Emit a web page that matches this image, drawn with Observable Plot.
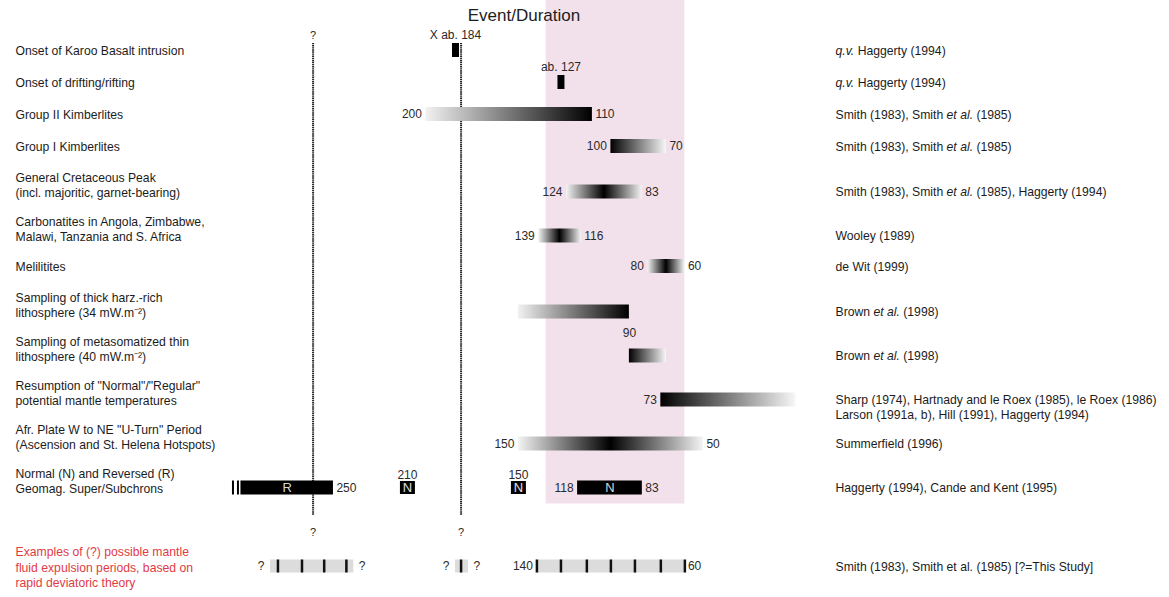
<!DOCTYPE html>
<html>
<head>
<meta charset="utf-8">
<script src="https://cdn.jsdelivr.net/npm/d3@7"></script>
<script src="https://cdn.jsdelivr.net/npm/@observablehq/plot@0.6"></script>
<style>
  html, body { margin: 0; padding: 0; background: #fff; }
  #chart svg { display: block; }
</style>
</head>
<body>
<div id="chart"></div>
<script>
// ---- Events (left column) and their sources (right column) ----
const eventLabels = [
  "Onset of Karoo Basalt intrusion",
  "Onset of drifting/rifting",
  "Group II Kimberlites",
  "Group I Kimberlites",
  "General Cretaceous Peak\n(incl. majoritic, garnet-bearing)",
  "Carbonatites in Angola, Zimbabwe,\nMalawi, Tanzania and S. Africa",
  "Melilitites",
  "Sampling of thick harz.-rich\nlithosphere (34 mW.m⁻²)",
  "Sampling of metasomatized thin\nlithosphere (40 mW.m⁻²)",
  "Resumption of \"Normal\"/\"Regular\"\npotential mantle temperatures",
  "Afr. Plate W to NE \"U-Turn\" Period\n(Ascension and St. Helena Hotspots)",
  "Normal (N) and Reversed (R)\nGeomag. Super/Subchrons"
];
// _..._ marks words set in italics
const eventSources = [
  "_q.v._ Haggerty (1994)",
  "_q.v._ Haggerty (1994)",
  "Smith (1983), Smith _et al._ (1985)",
  "Smith (1983), Smith _et al._ (1985)",
  "Smith (1983), Smith _et al._ (1985), Haggerty (1994)",
  "Wooley (1989)",
  "de Wit (1999)",
  "Brown _et al._ (1998)",
  "Brown _et al._ (1998)",
  "Sharp (1974), Hartnady and le Roex (1985), le Roex (1986)\nLarson (1991a, b), Hill (1991), Haggerty (1994)",
  "Summerfield (1996)",
  "Haggerty (1994), Cande and Kent (1995)"
];
const exampleLabel = "Examples of (?) possible mantle\nfluid expulsion periods, based on\nrapid deviatoric theory";
const exampleSource = "Smith (1983), Smith et al. (1985) [?=This Study]";

// ---- Ages in Ma ----
// Single-age onsets
const onsets = [
  { row: 0, age: 184, note: "X ab. 184" },
  { row: 1, age: 127, note: "ab. 127" }
];
// Durations; profile = how activity builds up / dies away over the interval
const durations = [
  { row: 2,  older: 200, younger: 110, profile: "waxing", marks: "both" },
  { row: 3,  older: 100, younger: 70,  profile: "waning", marks: "both" },
  { row: 4,  older: 124, younger: 83,  profile: "peak",   marks: "both" },
  { row: 5,  older: 139, younger: 116, profile: "peak",   marks: "both" },
  { row: 6,  older: 80,  younger: 60,  profile: "peak",   marks: "both" },
  { row: 7,  older: 150, younger: 90,  profile: "waxing", marks: "below" },
  { row: 8,  older: 90,  younger: 70,  profile: "waning", marks: "none" },
  { row: 9,  older: 73,  younger: 0,   profile: "waning", marks: "older" },
  { row: 10, older: 150, younger: 50,  profile: "peak",   marks: "both" }
];
// Geomagnetic super/subchrons
const chronIntervals = [
  { polarity: "R", older: 300, younger: 250, truncated: true,  marks: "younger" },
  { polarity: "N", older: 118, younger: 83,  truncated: false, marks: "both" }
];
const chronEvents = [
  { polarity: "N", age: 210 },
  { polarity: "N", age: 150 }
];
// Possible fluid expulsion windows and pulses
const expulsionWindows = [
  { older: 284, younger: 239, open: true },
  { older: 184, younger: 177, open: true },
  { older: 140, younger: 60,  open: false }
];
const expulsionPulses = [280, 267, 255, 243, 181, 140, 127, 113, 100, 87, 73, 60];

// Highlighted period and uncertain boundaries
const focusWindow = { older: 135, younger: 60 };
const uncertainBoundaries = [261, 181];

// ---- Layout ----
const W = 1169, H = 597;
const ROW_PX = 32;                 // px per row step
const EXTRA_LINE = 6 / ROW_PX;     // added per extra label line
const SECTION_GAP = 36 / ROW_PX;   // gap before the examples section
const LINE = 15 / ROW_PX;          // label line height in row units
const HALF_BAR = 7 / ROW_PX;

const rows = eventLabels.map((label, i) => ({ label, source: eventSources[i], section: 0 }))
  .concat([{ label: exampleLabel, source: exampleSource, section: 1 }]);
let slot = 0;
rows.forEach((r, i) => {
  r.lines = r.label.split("\n").length;
  if (i > 0) {
    const p = rows[i - 1];
    slot += 1 + EXTRA_LINE * (p.lines - 1 + r.lines - 1) + (r.section !== p.section ? SECTION_GAP : 0);
  }
  r.slot = slot;
  // bars sit on the second label line when there is one
  r.bar = slot + (r.lines > 1 ? (1 - (r.lines - 1) / 2) * LINE : 0);
});
const bar = i => rows[i].bar;
const geoRow = 11, exRow = rows.length - 1;
const yTop = -50 / ROW_PX, yBottom = (H - 50) / ROW_PX;

// number labels around the durations
const ageLabels = [];
durations.forEach(d => {
  if (d.marks === "both" || d.marks === "older") ageLabels.push({ row: d.row, age: d.older, side: "before" });
  if (d.marks === "both" || d.marks === "younger") ageLabels.push({ row: d.row, age: d.younger, side: "after" });
  if (d.marks === "below") ageLabels.push({ row: d.row, age: d.younger, side: "below" });
});
chronIntervals.forEach(d => {
  if (d.marks === "both") ageLabels.push({ row: geoRow, age: d.older, side: "before" });
  if (d.marks === "both" || d.marks === "younger") ageLabels.push({ row: geoRow, age: d.younger, side: "after" });
});
expulsionWindows.filter(d => !d.open).forEach(d => {
  ageLabels.push({ row: exRow, age: d.older, side: "before" });
  ageLabels.push({ row: exRow, age: d.younger, side: "after" });
});

const FONT = "'Liberation Sans', Arial, sans-serif";
const INK = "#1c1c1c", NUM = "#2a2a2a", RED = "#e23a44";

const byProfile = p => Plot.rect(durations.filter(d => d.profile === p), {
  x1: "older", x2: "younger",
  y1: d => bar(d.row) - HALF_BAR, y2: d => bar(d.row) + HALF_BAR,
  fill: `url(#${p})`
});
const ageText = (side, opts) => Plot.text(ageLabels.filter(d => d.side === side), {
  x: "age", y: d => bar(d.row), text: d => String(d.age),
  fontSize: 12, fill: NUM, ...opts
});

const chart = Plot.plot({
  width: W, height: H,
  marginTop: 0, marginRight: 0, marginBottom: 0, marginLeft: 0,
  x: { domain: [430, -202], range: [0, W], axis: null },
  y: { domain: [yTop, yBottom], range: [0, H], axis: null },
  style: { fontFamily: FONT, background: "#fff" },
  marks: [
    // highlighted period
    Plot.rect([focusWindow], {
      x1: "older", x2: "younger",
      y1: () => yTop, y2: () => bar(geoRow) + 0.5,
      fill: "#f2e1ea"
    }),
    // uncertain boundaries
    Plot.ruleX(uncertainBoundaries, {
      x: d => d, y1: () => rows[0].slot - 0.22, y2: () => bar(geoRow) + 0.86,
      stroke: "#222", strokeWidth: 2, strokeDasharray: "1.4 0.7"
    }),
    Plot.text(uncertainBoundaries.slice(0, 1), {
      x: d => d, y: () => rows[0].slot - 0.22, dy: -8, text: () => "?", fontSize: 11, fill: NUM
    }),
    Plot.text(uncertainBoundaries, {
      x: d => d, y: () => bar(geoRow) + 0.86, dy: 17, text: () => "?", fontSize: 11, fill: NUM
    }),

    // onsets
    Plot.ruleX(onsets, {
      x: "age", y1: d => bar(d.row) - HALF_BAR, y2: d => bar(d.row) + HALF_BAR,
      stroke: "#000", strokeWidth: 7
    }),
    Plot.text(onsets, { x: "age", y: d => bar(d.row), dy: -15, text: "note", fontSize: 12, fill: NUM }),

    // durations
    byProfile("waxing"), byProfile("waning"), byProfile("peak"),

    // geomagnetic chrons
    Plot.rect(chronIntervals, {
      x1: "older", x2: "younger",
      y1: () => bar(geoRow) - HALF_BAR, y2: () => bar(geoRow) + HALF_BAR, fill: "#000"
    }),
    Plot.text(chronIntervals, {
      x: d => (d.older + d.younger) / 2, y: () => bar(geoRow), text: "polarity",
      fill: "#d8d8d8", fontSize: 13
    }),
    ...[-3, -8].map(dx => Plot.ruleX(chronIntervals.filter(d => d.truncated), {
      x: "older", dx, y1: () => bar(geoRow) - HALF_BAR, y2: () => bar(geoRow) + HALF_BAR,
      stroke: "#000", strokeWidth: 2
    })),
    Plot.ruleX(chronEvents, {
      x: "age", y1: () => bar(geoRow) - 6.5 / ROW_PX, y2: () => bar(geoRow) + 6.5 / ROW_PX,
      stroke: "#000", strokeWidth: 15
    }),
    Plot.text(chronEvents, { x: "age", y: () => bar(geoRow), text: "polarity", fill: "#e0e0e0", fontSize: 13 }),
    Plot.text(chronEvents, { x: "age", y: () => bar(geoRow), dy: -13, text: d => String(d.age), fontSize: 12, fill: NUM }),

    // expulsion windows and pulses
    Plot.rect(expulsionWindows, {
      x1: "older", x2: "younger",
      y1: () => bar(exRow) - 6.5 / ROW_PX, y2: () => bar(exRow) + 6.5 / ROW_PX, fill: "#dcdcdc"
    }),
    Plot.ruleX(expulsionPulses, {
      x: d => d, y1: () => bar(exRow) - 6.5 / ROW_PX, y2: () => bar(exRow) + 6.5 / ROW_PX,
      stroke: "#111", strokeWidth: 2.5
    }),
    Plot.text(expulsionWindows.filter(d => d.open), {
      x: "older", y: () => bar(exRow), dx: -6, text: () => "?", textAnchor: "end", fontSize: 12, fill: NUM
    }),
    Plot.text(expulsionWindows.filter(d => d.open), {
      x: "younger", y: () => bar(exRow), dx: 5, text: () => "?", textAnchor: "start", fontSize: 12, fill: NUM
    }),

    // age numbers
    ageText("before", { textAnchor: "end", dx: -4 }),
    ageText("after", { textAnchor: "start", dx: 3 }),
    ageText("below", { textAnchor: "middle", dy: 21 }),

    // left column: events
    Plot.text(rows.filter(r => r.section === 0), {
      frameAnchor: "left", dx: 15, y: "slot", text: "label",
      textAnchor: "start", lineAnchor: "middle", lineHeight: 1.25, fontSize: 12.2, fill: INK
    }),
    Plot.text(rows.filter(r => r.section === 1), {
      frameAnchor: "left", dx: 15, y: "slot", text: "label",
      textAnchor: "start", lineAnchor: "middle", lineHeight: 1.3, fontSize: 12.2, fill: RED
    }),
    // right column: sources
    Plot.text(rows, {
      frameAnchor: "left", dx: 835, y: "bar", dy: -6, text: "source",
      textAnchor: "start", lineAnchor: "top", lineHeight: 1.2, fontSize: 12.2, fill: INK
    }),
    // heading
    Plot.text(["Event/Duration"], {
      frameAnchor: "top", dx: -61, dy: 15, text: d => d, lineAnchor: "middle",
      fontSize: 17, fill: INK
    })
  ]
});

// gradients used by the duration bars
const defs = d3.select(chart).insert("defs", ":first-child");
const gradients = {
  waxing: [[0, "#f2f2f2"], [1, "#000"]],
  waning: [[0, "#000"], [1, "#f7f7f7"]],
  peak:   [[0, "#f4f4f4"], [0.5, "#000"], [1, "#f4f4f4"]]
};
Object.entries(gradients).forEach(([id, stops]) => {
  const g = defs.append("linearGradient").attr("id", id)
    .attr("x1", 0).attr("x2", 1).attr("y1", 0).attr("y2", 0);
  stops.forEach(([o, c]) => g.append("stop").attr("offset", o).attr("stop-color", c));
});

// italic runs in the source texts
d3.select(chart).selectAll("text, tspan").each(function () {
  if (this.querySelector && this.querySelector("tspan")) return;
  const t = this.textContent;
  if (!t.includes("_")) return;
  const parts = t.split("_");
  this.textContent = "";
  parts.forEach((p, i) => {
    const s = document.createElementNS("http://www.w3.org/2000/svg", "tspan");
    if (i % 2 === 1) s.setAttribute("font-style", "italic");
    s.textContent = p;
    this.appendChild(s);
  });
});

document.getElementById("chart").appendChild(chart);
</script>
</body>
</html>
